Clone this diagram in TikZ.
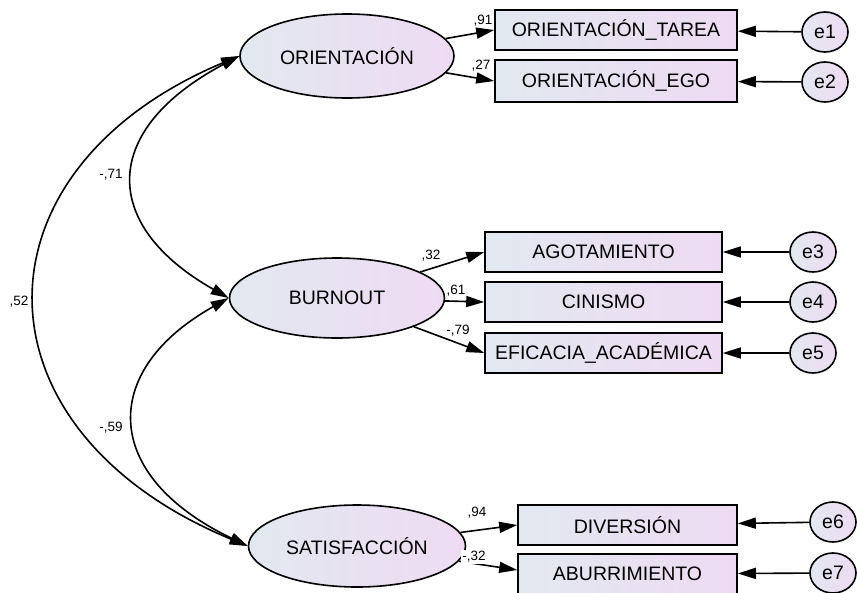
\documentclass[tikz,border=0pt]{standalone}
\usepackage{fontspec}
\setmainfont{Liberation Sans}
\usetikzlibrary{arrows.meta,shapes.geometric}
\definecolor{lblue}{RGB}{226,232,240}
\definecolor{lpink}{RGB}{238,219,243}
\begin{document}
\begin{tikzpicture}[x=1pt,y=-1pt,
  base/.style={draw,line width=1.6pt,left color=lblue,right color=lpink,inner sep=0pt,font=\fontsize{19.5}{21}\selectfont},
  lat/.style={base,ellipse},
  obs/.style={base,rectangle,minimum height=40pt},
  err/.style={base,ellipse,minimum width=46pt,minimum height=40pt},
  lbl/.style={font=\fontsize{13.5}{15}\selectfont,inner sep=0pt},
  path/.style={line width=1.6pt,-{Triangle[length=18pt,width=11pt]}},
  cov/.style={line width=1.6pt,{Triangle[length=18pt,width=11pt]}-{Triangle[length=18pt,width=11pt]}}]
\useasboundingbox[fill=white] (0,0) rectangle (857,592);
% latent factors
\node[lat,minimum width=214pt,minimum height=84pt] (ori) at (347,56) {ORIENTACIÓN};
\node[lat,minimum width=215pt,minimum height=80pt] (bur) at (337,298) {BURNOUT};
\node[lat,minimum width=217pt,minimum height=82pt] (sat) at (357,546) {SATISFACCIÓN};
% observed
\node[obs,minimum width=242pt] (tar) at (616,30) {ORIENTACIÓN\_TAREA};
\node[obs,minimum width=242pt,minimum height=42pt] (ego) at (616,81) {ORIENTACIÓN\_EGO};
\node[obs,minimum width=237pt] (ago) at (603.5,252) {AGOTAMIENTO};
\node[obs,minimum width=237pt] (cin) at (603.5,302) {CINISMO};
\node[obs,minimum width=237pt] (efi) at (603.5,353) {EFICACIA\_ACADÉMICA};
\node[obs,minimum width=219pt] (div) at (627.5,525) {DIVERSIÓN};
\node[obs,minimum width=219pt] (abu) at (627.5,574) {ABURRIMIENTO};
% errors
\node[err] (e1) at (825,32) {e1};
\node[err] (e2) at (825,82) {e2};
\node[err] (e3) at (813,252) {e3};
\node[err] (e4) at (813,302) {e4};
\node[err] (e5) at (813,353) {e5};
\node[err] (e6) at (833,522) {e6};
\node[err] (e7) at (833,573) {e7};
% loadings
\draw[path] (ori) -- (tar.west);
\draw[path] (ori) -- (ego.west);
\draw[path] (bur) -- (ago.west);
\draw[path] (bur) -- (cin.west);
\draw[path] (bur) -- (efi.west);
\draw[path] (sat) -- (div.west);
\draw[path] (sat) -- ([yshift=4pt]abu.west);
% errors to indicators
\foreach \e/\o in {e1/tar,e2/ego,e3/ago,e4/cin,e5/efi,e6/div,e7/abu}
  \draw[path] (\e) -- (\o);
% covariances
\draw[cov] (ori.west) .. controls (100,130) and (100,225) .. (bur.west);
\draw[cov] (bur.west) .. controls (100,370) and (100,475) .. (sat.west);
\draw[cov] (ori.west) .. controls (-33,170) and (-33,430) .. (sat.west);
% labels
\node[lbl] (l1) at (483,21) {,91};
\node[lbl] (l2) at (481,66) {,27};
\node[lbl] (l3) at (431,256) {,32};
\node[lbl] (l4) at (456,291) {,61};
\node[lbl] (l5) at (458,331) {-,79};
\node[lbl] (l6) at (477,513) {,94};
\node[lbl,fill=white,inner sep=1pt] (l7) at (474,557) {-,32};
\node[lbl] (c1) at (111,175) {-,71};
\node[lbl] (c2) at (19,302) {,52};
\node[lbl] (c3) at (111,428) {-,59};
\end{tikzpicture}
\end{document}
